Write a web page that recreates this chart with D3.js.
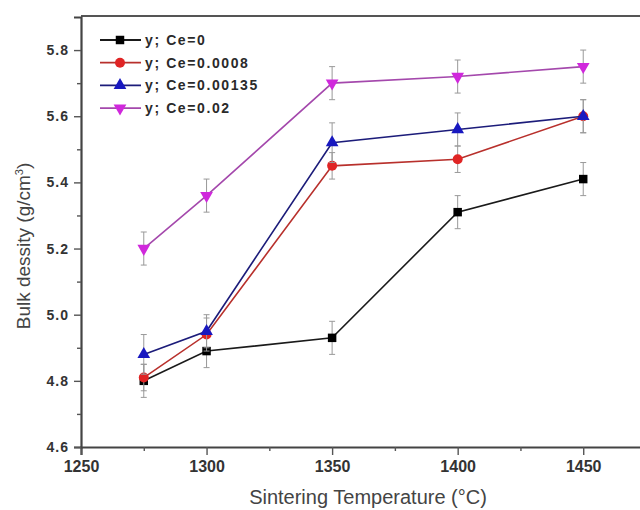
<!DOCTYPE html>
<html>
<head>
<meta charset="utf-8">
<script src="https://cdn.jsdelivr.net/npm/d3@7"></script>
<style>
  html, body { margin: 0; padding: 0; background: #fff; }
  svg { display: block; font-family: Arial, "Liberation Sans", sans-serif; }
</style>
</head>
<body>
<svg id="chart" width="640" height="510"></svg>
<script>
// Sintering temperatures (°C)
const temperatures = [1275, 1300, 1350, 1400, 1450];

// Bulk density (g/cm³) for each Ce content
const seriesNames = ["y; Ce=0", "y; Ce=0.0008", "y; Ce=0.00135", "y; Ce=0.02"];
const densityCe0      = [4.80, 4.89, 4.93, 5.31, 5.41];
const densityCe0008   = [4.81, 4.94, 5.45, 5.47, 5.60];
const densityCe00135  = [4.88, 4.95, 5.52, 5.56, 5.60];
const densityCe002    = [5.20, 5.36, 5.70, 5.72, 5.75];

// Standard deviations (error bars)
const errCe0      = [0.05, 0.05, 0.05, 0.05, 0.05];
const errCe0008   = [0.04, 0.05, 0.04, 0.04, 0.05];
const errCe00135  = [0.06, 0.05, 0.06, 0.05, 0.05];
const errCe002    = [0.05, 0.05, 0.05, 0.05, 0.05];

// Axis ticks
const xTicks = [1250, 1300, 1350, 1400, 1450];
const xMinorTicks = [1275, 1325, 1375, 1425, 1475];
const yTicks = [4.6, 4.8, 5.0, 5.2, 5.4, 5.6, 5.8];
const yMinorTicks = [4.7, 4.9, 5.1, 5.3, 5.5, 5.7];

const series = [
  { name: seriesNames[0], values: densityCe0,     errors: errCe0,     line: "#1a1a1a", fill: "#000000", shape: d3.symbolSquare,   size: 72 },
  { name: seriesNames[1], values: densityCe0008,  errors: errCe0008,  line: "#b8302c", fill: "#e02424", shape: d3.symbolCircle,   size: 78 },
  { name: seriesNames[2], values: densityCe00135, errors: errCe00135, line: "#1c1c7a", fill: "#1818c0", shape: d3.symbolTriangle, size: 70 },
  { name: seriesNames[3], values: densityCe002,   errors: errCe002,   line: "#a448ac", fill: "#d028dc", shape: d3.symbolTriangle, size: 70, flip: true }
];

const svg = d3.select("#chart");
const plotLeft = 81, plotTop = 17, plotBottom = 447;

const x = d3.scaleLinear().domain([1250, 1475]).range([plotLeft, 646]);
const y = d3.scaleLinear().domain([4.6, 5.9]).range([plotBottom, plotTop]);

// Top frame line
svg.append("line")
  .attr("x1", plotLeft).attr("x2", 640)
  .attr("y1", plotTop - 1).attr("y2", plotTop - 1)
  .attr("stroke", "#555").attr("stroke-width", 2);

// Bottom axis
const xAxis = svg.append("g").attr("transform", `translate(0,${plotBottom})`)
  .call(d3.axisBottom(x).tickValues(xTicks).tickFormat(d3.format("d")).tickSize(8).tickPadding(6));
svg.append("g").attr("transform", `translate(0,${plotBottom})`)
  .call(d3.axisBottom(x).tickValues(xMinorTicks).tickFormat("").tickSize(4))
  .call(g => g.select(".domain").remove());

// Left axis
const yAxis = svg.append("g").attr("transform", `translate(${plotLeft},0)`)
  .call(d3.axisLeft(y).tickValues(yTicks).tickFormat(d3.format(".1f")).tickSize(7).tickPadding(5));
svg.append("g").attr("transform", `translate(${plotLeft},0)`)
  .call(d3.axisLeft(y).tickValues(yMinorTicks).tickFormat("").tickSize(4))
  .call(g => g.select(".domain").remove());

svg.selectAll(".domain").attr("stroke", "#444").attr("stroke-width", 2.2);
svg.selectAll(".tick line").attr("stroke", "#555").attr("stroke-width", 1.4);
xAxis.selectAll("text")
  .attr("fill", "#333").attr("font-size", 16).attr("font-weight", "bold");
yAxis.selectAll("text")
  .attr("fill", "#333").attr("font-size", 14).attr("font-weight", "bold")
  .attr("letter-spacing", "1px");

// Axis titles
svg.append("text")
  .attr("x", 368).attr("y", 504)
  .attr("text-anchor", "middle")
  .attr("font-size", 20).attr("fill", "#444")
  .text("Sintering Temperature (°C)");

const yTitle = svg.append("text")
  .attr("transform", "translate(30,246) rotate(-90)")
  .attr("text-anchor", "middle")
  .attr("font-size", 19).attr("fill", "#444");
yTitle.append("tspan").text("Bulk dessity (g/cm");
yTitle.append("tspan").attr("font-size", 11).attr("dy", -7).text("3");
yTitle.append("tspan").attr("dy", 7).text(")");

const symbolPath = (s) => d3.symbol().type(s.shape).size(s.size)();

// Series: error bars, lines, markers
const plot = svg.append("g");
series.forEach(s => {
  const g = plot.append("g");
  const pts = temperatures.map((t, i) => ({ t, v: s.values[i], e: s.errors[i] }));

  const eb = g.selectAll(".eb").data(pts).join("g").attr("stroke", "#999").attr("stroke-width", 1);
  eb.append("line")
    .attr("x1", d => x(d.t)).attr("x2", d => x(d.t))
    .attr("y1", d => y(d.v + d.e)).attr("y2", d => y(d.v - d.e));
  eb.append("line")
    .attr("x1", d => x(d.t) - 3).attr("x2", d => x(d.t) + 3)
    .attr("y1", d => y(d.v + d.e)).attr("y2", d => y(d.v + d.e));
  eb.append("line")
    .attr("x1", d => x(d.t) - 3).attr("x2", d => x(d.t) + 3)
    .attr("y1", d => y(d.v - d.e)).attr("y2", d => y(d.v - d.e));

  g.append("path")
    .datum(pts)
    .attr("fill", "none")
    .attr("stroke", s.line)
    .attr("stroke-width", 1.6)
    .attr("d", d3.line().x(d => x(d.t)).y(d => y(d.v)));

  g.selectAll(".mk").data(pts).join("path")
    .attr("d", symbolPath(s))
    .attr("transform", d => `translate(${x(d.t)},${y(d.v)})${s.flip ? " rotate(180)" : ""}`)
    .attr("fill", s.fill);
});

// Legend
const legend = svg.append("g");
series.forEach((s, i) => {
  const ly = 40 + i * 22.7;
  legend.append("line")
    .attr("x1", 100).attr("x2", 141).attr("y1", ly).attr("y2", ly)
    .attr("stroke", s.line).attr("stroke-width", 1.8);
  legend.append("path")
    .attr("d", symbolPath(s))
    .attr("transform", `translate(120,${ly})${s.flip ? " rotate(180)" : ""}`)
    .attr("fill", s.fill);
  legend.append("text")
    .attr("x", 145).attr("y", ly + 5)
    .attr("font-size", 14).attr("font-weight", "bold")
    .attr("letter-spacing", "1.6px")
    .attr("fill", "#2a2a2a")
    .text(s.name);
});
</script>
</body>
</html>
